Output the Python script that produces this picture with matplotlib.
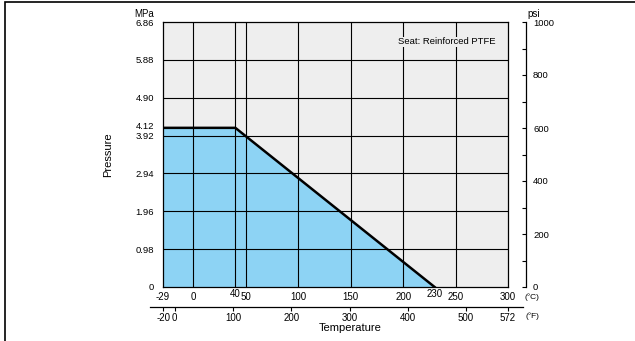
"""Pressure-temperature rating chart, reinforced PTFE seat."""
import matplotlib.pyplot as plt
from matplotlib.transforms import offset_copy

plt.rcParams.update({
    "font.family": ["Liberation Sans", "DejaVu Sans"],
    "font.size": 7,
})

# rating curve (deg C, MPa)
TEMP_C = [-29, 40, 230]
PRESS_MPA = [4.12, 4.12, 0]

C_TICKS = [-29, 0, 50, 100, 150, 200, 250, 300]
C_RAISED = [40, 230]
C_GRID = [0, 40, 50, 100, 150, 200, 250]
MPA_TICKS = [0, 0.98, 1.96, 2.94, 4.90, 5.88, 6.86]
MPA_LABELS = ["0", "0.98", "1.96", "2.94", "4.90", "5.88", "6.86"]
# two close labels, nudged apart (value, label, shift in points)
MPA_CLOSE = [(4.12, "4.12", 1.0), (3.92, "3.92", -0.6)]
MPA_GRID = [0.98, 1.96, 2.94, 3.92, 4.90, 5.88]
PSI_MAJOR = [0, 200, 400, 600, 800, 1000]
PSI_MINOR = [100, 300, 500, 700, 900]
F_TICKS = [-20, 0, 100, 200, 300, 400, 500, 572]

W, H = 635, 341
fig = plt.figure(figsize=(W / 100, H / 100), dpi=100)

# outer frame (only top and left edges show in the crop)
fig.patches.append(plt.Rectangle((4.5 / W, -0.1), 1.2, 1.1 - 1.5 / H,
                                 transform=fig.transFigure, fill=False,
                                 ec="black", lw=1.2))

L, R, T, B = 163, 508, 22, 287
ax = fig.add_axes([L / W, 1 - B / H, (R - L) / W, (B - T) / H])
ax.set_facecolor("#eeeeee")
ax.set_xlim(-29, 300)
ax.set_ylim(0, 6.86)

ax.fill_between(TEMP_C, PRESS_MPA, 0, color="#8dd3f4", lw=0, zorder=1)
for c in C_GRID:
    ax.axvline(c, color="black", lw=0.8, zorder=2)
for p in MPA_GRID:
    ax.axhline(p, color="black", lw=0.8, zorder=2)
ax.plot(TEMP_C, PRESS_MPA, color="black", lw=1.8, zorder=3,
        solid_joinstyle="miter")

for s in ax.spines.values():
    s.set_linewidth(0.9)
    s.set_zorder(4)

ax.set_xticks(C_TICKS)
ax.set_xticklabels([str(c) for c in C_TICKS])
ax.tick_params(axis="x", length=0, pad=3.5)
raised = offset_copy(ax.get_xaxis_transform(), fig=fig, y=-1.5, units="points")
for c in C_RAISED:
    ax.text(c, 0, str(c), ha="center", va="top", transform=raised)
ax.text(1.048, -0.024, "(°C)", transform=ax.transAxes, ha="left", va="top",
        fontsize=6)

ax.set_yticks(MPA_TICKS)
ax.set_yticklabels(MPA_LABELS)
ax.tick_params(axis="y", length=0, pad=6.5, labelsize=6.8)
for v, lab, dy in MPA_CLOSE:
    tr = offset_copy(ax.get_yaxis_transform(), fig=fig, x=-6.5, y=dy,
                     units="points")
    ax.text(0, v, lab, ha="right", va="center", fontsize=6.8, transform=tr)
ax.text(-0.055, 1.01, "MPa", transform=ax.transAxes, ha="center",
        va="bottom")
ax.set_ylabel("Pressure", labelpad=16, fontsize=8)

ax.text(0.965, 0.925, "Seat: Reinforced PTFE", transform=ax.transAxes,
        ha="right", va="center", fontsize=6.8, zorder=5,
        bbox=dict(fc="#eeeeee", ec="none", pad=0.5))

# psi axis, offset to the right
axp = ax.twinx()
axp.set_ylim(0, 1000)
for s in ["top", "bottom", "left"]:
    axp.spines[s].set_visible(False)
axp.spines["right"].set_position(("outward", 13))
axp.spines["right"].set_linewidth(0.9)
axp.set_yticks(PSI_MAJOR)
axp.set_yticks(PSI_MINOR, minor=True)
axp.tick_params(axis="y", which="both", direction="in", length=3.2,
                width=0.8, pad=5, labelsize=6.8)
axp.text(1.055, 1.01, "psi", transform=axp.transAxes, ha="left",
         va="bottom")


# Fahrenheit axis below
def c_to_f(c):
    return c * 9 / 5 + 32


scale = (300 - -29) / (R - L)
fl, fr = 150, 523
c_left = -29 + (fl - L) * scale
c_right = -29 + (fr - L) * scale
fy = 306.5
axf = fig.add_axes([fl / W, 1 - fy / H, (fr - fl) / W, 0.001])
axf.patch.set_visible(False)
axf.set_xlim(c_to_f(c_left), c_to_f(c_right))
for s in ["top", "left", "right"]:
    axf.spines[s].set_visible(False)
axf.spines["bottom"].set_linewidth(0.9)
axf.set_yticks([])
axf.set_xticks(F_TICKS)
axf.set_xticklabels([str(f) for f in F_TICKS])
axf.tick_params(axis="x", direction="out", length=3, width=0.8, pad=1.5)
fig.text(525 / W, 1 - 316 / H, "(°F)", ha="left", va="center", fontsize=6)
fig.text(350 / W, 1 - 328 / H, "Temperature", ha="center", va="center",
         fontsize=8)

fig.savefig("out.png", dpi=100)
